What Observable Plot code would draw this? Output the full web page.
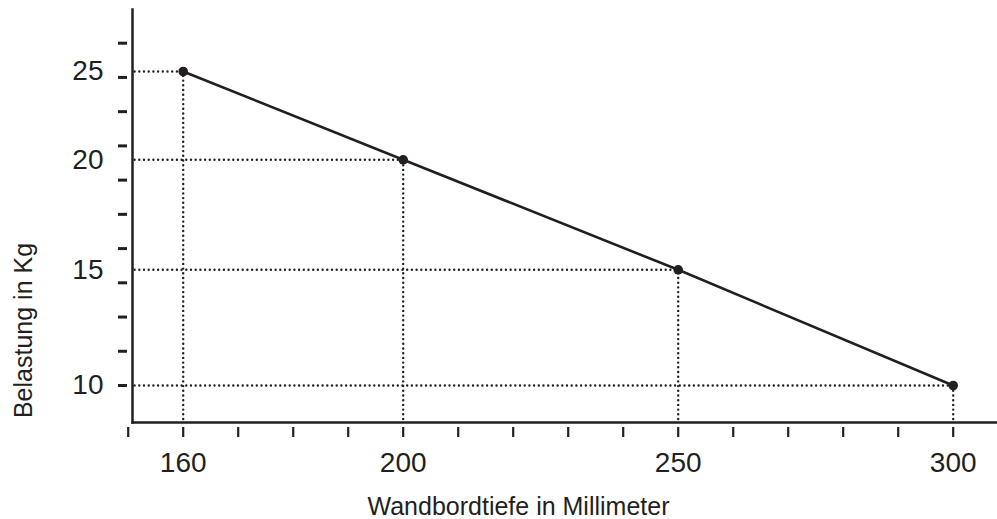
<!DOCTYPE html>
<html>
<head>
<meta charset="utf-8">
<script src="https://cdn.jsdelivr.net/npm/d3@7"></script>
<script src="https://cdn.jsdelivr.net/npm/@observablehq/plot@0.6"></script>
<style>
  html, body { margin: 0; padding: 0; background: #fff; }
</style>
</head>
<body>
<div id="chart"></div>
<script>
// ---- data ----
const depthMm = [160, 200, 250, 300];
const loadKg = [25, 20, 15, 10];
const xTickValues = [150, 160, 170, 180, 190, 200, 210, 220, 230, 240, 250, 260, 270, 280, 290, 300];
const xLabelValues = [160, 200, 250, 300];
const yLabelValues = [10, 15, 20, 25];
const xTitle = "Wandbordtiefe in Millimeter";
const yTitle = "Belastung in Kg";

// ---- layout / style ----
const ink = "#231f20";
const W = 997, H = 519;
const mTop = 9, mLeft = 132, mRight = 0, mBottom = 97;
const xRange = [127.7, 952.7];
// The reference's y axis is schematic: 11 evenly spaced minor tick marks, with the
// value labels sitting between them. Position along the axis is measured in
// minor-tick steps; the labels sit at these steps:
const yLabelSteps = [0, 3.38, 6.594, 9.173];
const yStepCount = 10;
const yRange = [385, 42.7];

const points = depthMm.map((mm, i) => ({mm, kg: loadKg[i]}));

const kgToStep = d3.scaleLinear().domain(yLabelValues).range(yLabelSteps);
const yMinorSteps = d3.range(yStepCount + 1);
const yLabelTickSteps = yLabelValues.map(v => kgToStep(v));

const dotted = {stroke: ink, strokeWidth: 2.4, strokeLinecap: "round", strokeDasharray: "0 4.7", clip: true};

const chart = Plot.plot({
  width: W,
  height: H,
  marginTop: mTop,
  marginLeft: mLeft,
  marginRight: mRight,
  marginBottom: mBottom,
  style: {fontFamily: "'Liberation Sans', Arial, Helvetica, sans-serif", color: ink, background: "#fff", overflow: "visible"},
  x: {domain: [xTickValues[0], xTickValues[xTickValues.length - 1]], range: xRange},
  y: {transform: kgToStep, domain: [0, yStepCount], range: yRange},
  marks: [
    Plot.ruleY(points, {y: "kg", x: "mm", ...dotted}),
    Plot.ruleX(points, {x: "mm", y: "kg", ...dotted}),
    Plot.frame({anchor: "left", stroke: ink, strokeWidth: 2.5}),
    Plot.frame({anchor: "bottom", stroke: ink, strokeWidth: 2.5}),
    Plot.axisX({ticks: xTickValues, text: null, tickSize: 10, dy: 5, strokeWidth: 2.2, label: null}),
    Plot.axisX({ticks: xLabelValues, tickSize: 0, tickPadding: 30, fontSize: 28, label: null, fill: ink}),
    Plot.axisY({ticks: yMinorSteps, text: null, tickSize: 9, dx: -5, strokeWidth: 3, label: null}),
    Plot.axisY({ticks: yLabelTickSteps, tickFormat: s => String(Math.round(kgToStep.invert(s))), tickSize: 0, tickPadding: 29, fontSize: 28, label: null, fill: ink}),
    Plot.line(points, {x: "mm", y: "kg", stroke: ink, strokeWidth: 2.6}),
    Plot.dot(points, {x: "mm", y: "kg", r: 4.8, fill: ink, stroke: null}),
    Plot.text([xTitle], {frameAnchor: "bottom", textAnchor: "middle", lineAnchor: "middle", dx: -46.5, dy: 84, fontSize: 25, fill: ink}),
    Plot.text([yTitle], {frameAnchor: "left", textAnchor: "middle", lineAnchor: "middle", rotate: -90, dx: -108.3, dy: 114.5, fontSize: 25, fill: ink})
  ]
});

document.getElementById("chart").appendChild(chart);
</script>
</body>
</html>
